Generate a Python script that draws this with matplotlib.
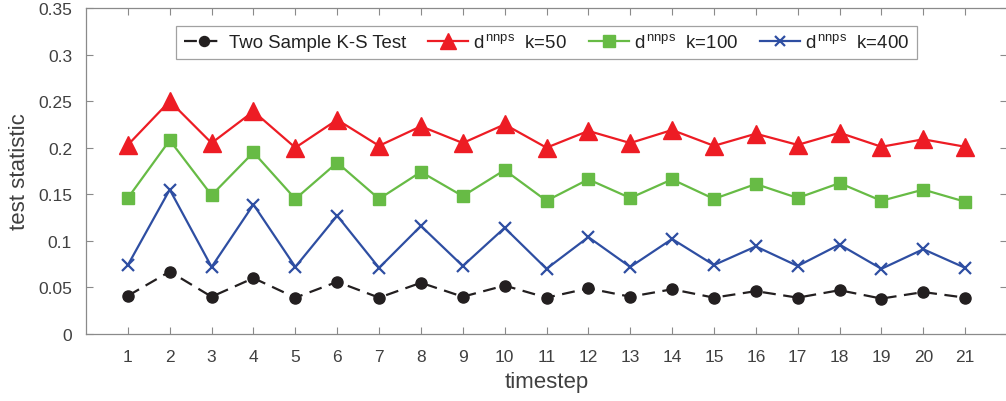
import numpy as np
import matplotlib
matplotlib.use('Agg')
import matplotlib.pyplot as plt

plt.rcParams['font.family'] = ['Liberation Sans', 'DejaVu Sans']
plt.rcParams['mathtext.fontset'] = 'custom'
plt.rcParams['mathtext.rm'] = 'Liberation Sans'
plt.rcParams['mathtext.it'] = 'Liberation Sans'

timestep = np.arange(1, 22)

ks_test = [0.041, 0.067, 0.040, 0.060, 0.039, 0.056, 0.039, 0.055, 0.040, 0.052,
           0.039, 0.049, 0.040, 0.048, 0.039, 0.046, 0.039, 0.047, 0.038, 0.045, 0.039]
nnps_k50 = [0.203, 0.250, 0.205, 0.239, 0.200, 0.230, 0.202, 0.223, 0.205, 0.225,
            0.200, 0.218, 0.205, 0.219, 0.202, 0.215, 0.203, 0.216, 0.201, 0.209, 0.201]
nnps_k100 = [0.146, 0.208, 0.149, 0.195, 0.145, 0.184, 0.145, 0.174, 0.148, 0.176,
             0.143, 0.166, 0.146, 0.166, 0.145, 0.161, 0.146, 0.162, 0.143, 0.155, 0.142]
nnps_k400 = [0.074, 0.155, 0.072, 0.139, 0.072, 0.127, 0.071, 0.116, 0.073, 0.114,
             0.070, 0.104, 0.072, 0.102, 0.074, 0.094, 0.073, 0.096, 0.070, 0.091, 0.071]

yticks = [0, 0.05, 0.1, 0.15, 0.2, 0.25, 0.3, 0.35]
ytick_labels = ['0', '0.05', '0.1', '0.15', '0.2', '0.25', '0.3', '0.35']

txt = '#404040'
spine = '#8a8a8a'

fig = plt.figure(figsize=(10.06, 4.02), dpi=100)
ax = fig.add_axes([0.0855, 0.1667, 0.9155, 0.811])

ax.plot(timestep, ks_test, color='#231f20', lw=1.6, marker='o', ms=8,
        dashes=[5.8, 3.4], label='Two Sample K-S Test')
ax.plot(timestep, nnps_k50, color='#ed1c24', lw=1.6, marker='^', ms=13,
        label=r'd$^{\,\mathrm{nnps}}$  k=50')
ax.plot(timestep, nnps_k100, color='#67bb45', lw=1.6, marker='s', ms=9,
        label=r'd$^{\,\mathrm{nnps}}$  k=100')
ax.plot(timestep, nnps_k400, color='#2e4ea2', lw=1.6, marker='x', ms=8, mew=1.6,
        label=r'd$^{\,\mathrm{nnps}}$  k=400')

ax.set_xlim(0, 22)
ax.set_ylim(0, 0.35)
ax.set_xticks(timestep)
ax.set_xticklabels([str(t) for t in timestep])
ax.set_yticks(yticks)
ax.set_yticklabels(ytick_labels)
ax.tick_params(direction='in', length=5, width=0.8, color=spine, labelcolor=txt,
               labelsize=12.5, top=True, right=True)
ax.tick_params(axis='x', pad=11)
ax.tick_params(axis='y', pad=10)
for s in ax.spines.values():
    s.set_color(spine)
    s.set_linewidth(0.9)

ax.set_xlabel('timestep', fontsize=16, color=txt, labelpad=5)
ax.set_ylabel('test statistic', fontsize=16, color=txt, labelpad=6)

leg = ax.legend(loc='upper center', bbox_to_anchor=(0.5, 0.945), ncol=4, fontsize=13.4,
                frameon=True, fancybox=False, edgecolor=spine, handlelength=2.15,
                handletextpad=0.3, columnspacing=1.15, borderpad=0.4, borderaxespad=0,
                markerscale=0.9)
leg.get_frame().set_linewidth(0.9)
for t in leg.get_texts():
    t.set_color('#222222')

fig.savefig('out.png', dpi=100)
